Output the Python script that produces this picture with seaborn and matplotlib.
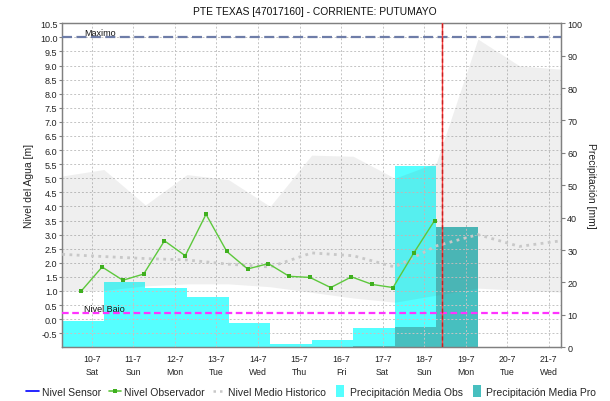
import numpy as np
import pandas as pd
import matplotlib
matplotlib.use("Agg")
import matplotlib.pyplot as plt
import matplotlib.dates as mdates
from matplotlib.ticker import FuncFormatter, FixedLocator
from matplotlib.lines import Line2D
import seaborn as sns

# ---- data -------------------------------------------------------------
title = "PTE TEXAS [47017160] - CORRIENTE: PUTUMAYO"

# observer readings, every 12 h starting 9-7 18:00
obs_times = pd.date_range("2021-07-09 18:00", periods=18, freq="12h")
obs_level = [1.00, 1.85, 1.38, 1.60, 2.78, 2.25, 3.72, 2.40, 1.78,
             1.97, 1.52, 1.48, 1.12, 1.50, 1.23, 1.12, 2.35, 3.50]

# historical envelope and mean, daily at 07:00
hist_times = pd.date_range("2021-07-09 07:00", periods=13, freq="D")
hist_max = [5.08, 5.31, 4.05, 5.13, 4.95, 4.00, 5.82, 5.78, 5.00, 5.55, 9.94, 8.99, 8.87]
hist_min = [1.00, 1.02, 1.18, 1.25, 1.25, 1.15, 0.95, 0.75, 0.60, 0.85, 1.10, 1.02, 0.96]
hist_mean = [2.30, 2.22, 2.15, 2.10, 1.95, 1.85, 2.35, 2.25, 1.85, 2.60, 3.00, 2.58, 2.78]

# daily precipitation (07:00 to 07:00)
precip_obs_start = pd.date_range("2021-07-09 07:00", periods=9, freq="D")
precip_obs = [8.0, 20.0, 18.2, 15.6, 7.6, 1.1, 2.3, 6.0, 55.8]
precip_pro_start = pd.date_range("2021-07-09 07:00", periods=10, freq="D")
precip_pro = [0, 0, 0, 0, 0, 0, 0, 0.4, 6.3, 37.0]

level_max = 10.0
level_low = 0.2
now = pd.Timestamp("2021-07-18 10:20")
x_start = pd.Timestamp("2021-07-09 07:00")
x_end = pd.Timestamp("2021-07-21 07:00")

OBS_COLOR = "#55FFFF"
PRO_COLOR = "#47BFBF"
LINE_GREEN = "#5DC83C"
MARK_GREEN = "#3FAF1F"
MEAN_GRAY = "#C8C8C8"

# ---- style ------------------------------------------------------------
sns.set_theme(style="white")
plt.rcParams['font.family'] = ['Liberation Sans', 'DejaVu Sans']

fig = plt.figure(figsize=(6.10, 4.02), dpi=100)
ax_l = fig.add_axes([0.1021, 0.1336, 0.8176, 0.806])
ax_p = ax_l.twinx()
ax_l.set_zorder(2)
ax_p.set_zorder(1)
ax_l.patch.set_visible(False)
ax_p.patch.set_visible(True)
ax_p.patch.set_facecolor("white")

# precipitation bars (right axis)
ax_p.bar(precip_obs_start, precip_obs, width=1.0, align="edge",
         color=OBS_COLOR, linewidth=0)
ax_p.bar(precip_pro_start, precip_pro, width=1.0, align="edge",
         color=PRO_COLOR, linewidth=0)
ax_p.set_ylim(0, 100)
ax_p.set_yticks(np.arange(0, 101, 10))
ax_p.tick_params(axis="y", labelsize=6.5, length=3, width=0.8,
                 color="#808080", pad=1.5, labelcolor="#222222")
ax_p.set_ylabel("Precipitación [mm]", fontsize=7.5, rotation=270,
                color="#222222")
ax_p.yaxis.set_label_coords(1.071, 0.5)

# historical band and mean (left axis)
ax_l.fill_between(hist_times, hist_min, hist_max, color="#666666",
                  alpha=0.1, linewidth=0, zorder=1)
sns.lineplot(x=hist_times, y=hist_mean, ax=ax_l, color=MEAN_GRAY,
             linewidth=2.0, linestyle=(0, (1, 1.6)), zorder=3)

# observer line
sns.lineplot(x=obs_times, y=obs_level, ax=ax_l, color=LINE_GREEN,
             linewidth=1.0, marker="s", markersize=3.2,
             markerfacecolor=MARK_GREEN, markeredgewidth=0, zorder=5)

# reference levels
ax_l.axhline(level_max, color="#6E7DA8", linewidth=1.6,
             linestyle=(0, (4.5, 2.0)), zorder=4)
ax_l.axhline(level_low, color="#FF33FF", linewidth=1.6,
             linestyle=(0, (3.0, 1.6)), zorder=4)
ax_l.text(pd.Timestamp("2021-07-09 19:30"), level_max + 0.03, "Maximo",
          fontsize=6.5, va="bottom", ha="left", color="#111111")
ax_l.text(pd.Timestamp("2021-07-09 19:30"), level_low + 0.03, "Nivel Bajo",
          fontsize=6.5, va="bottom", ha="left", color="#111111")

# current time marker
ax_l.axvline(now, color="#FF4040", linewidth=1.0, zorder=6)
ax_l.axvline(now, color="#C81E1E", linewidth=1.0, linestyle=(0, (3, 2)),
             zorder=6)

# axes limits and ticks
ax_l.set_xlim(x_start, x_end)
ax_l.set_ylim(-1.0, 10.5)
ax_l.yaxis.set_major_locator(FixedLocator(np.arange(-0.5, 10.51, 0.5)))
ax_l.yaxis.set_major_formatter(FuncFormatter(lambda v, _: f"{v:.1f}"))
ax_l.tick_params(axis="y", labelsize=6.5, length=2, width=0.8,
                 color="#808080", pad=1.5, labelcolor="#222222")
ax_l.set_ylabel("Nivel del Agua [m]", fontsize=7.5, color="#222222")
ax_l.yaxis.set_label_coords(-0.056, 0.5)

ax_l.xaxis.set_major_locator(mdates.DayLocator())
ax_l.xaxis.set_minor_locator(mdates.HourLocator())


def day_label(v, _):
    d = mdates.num2date(v)
    return f"{d.day}-{d.month}\n{d.strftime('%a')}"


ax_l.xaxis.set_major_formatter(FuncFormatter(day_label))
ax_l.tick_params(axis="x", which="major", labelsize=6.3, length=2,
                 color="#808080", pad=3, labelcolor="#222222")
ax_l.tick_params(axis="x", which="minor", length=2, width=0.6,
                 color="#808080")
ax_l.set_xlabel("")
for lbl in ax_l.get_xticklabels():
    lbl.set_linespacing(1.5)

ax_l.grid(True, which="major", color="#C4C4C4", linestyle=(0, (2, 2)),
          linewidth=0.7)
ax_p.grid(False)

for ax in (ax_l, ax_p):
    for sp in ax.spines.values():
        sp.set_color("#808080")
        sp.set_linewidth(0.9)

fig.text(0.516, 0.970, title, ha="center", va="center", fontsize=7.4,
         color="#111111")

# legend: lines plus narrow upright swatches for the bar series
swatch = [(-0.33, -0.5), (0.33, -0.5), (0.33, 0.5), (-0.33, 0.5), (-0.33, -0.5)]
handles = [
    Line2D([], [], color="#0000FF", linewidth=1.2),
    Line2D([], [], color=LINE_GREEN, linewidth=1.2, marker="s",
           markersize=2.5, markerfacecolor=MARK_GREEN, markeredgewidth=0),
    Line2D([], [], color=MEAN_GRAY, linewidth=1.8, linestyle=(0, (1, 1.6))),
    Line2D([], [], linestyle="none", marker=swatch, markersize=9,
           markerfacecolor=OBS_COLOR, markeredgewidth=0),
    Line2D([], [], linestyle="none", marker=swatch, markersize=9,
           markerfacecolor=PRO_COLOR, markeredgewidth=0),
]
labels = ["Nivel Sensor", "Nivel Observador", "Nivel Medio Historico",
          "Precipitación Media Obs", "Precipitación Media Pro"]
fig.legend(handles, labels, loc="center", bbox_to_anchor=(0.51, 1 - 393 / 402),
           ncol=5, frameon=False, fontsize=7.5, handlelength=1.2,
           handleheight=1.0, handletextpad=0.3, columnspacing=0.75,
           borderaxespad=0)

fig.savefig("out.png", dpi=100)
